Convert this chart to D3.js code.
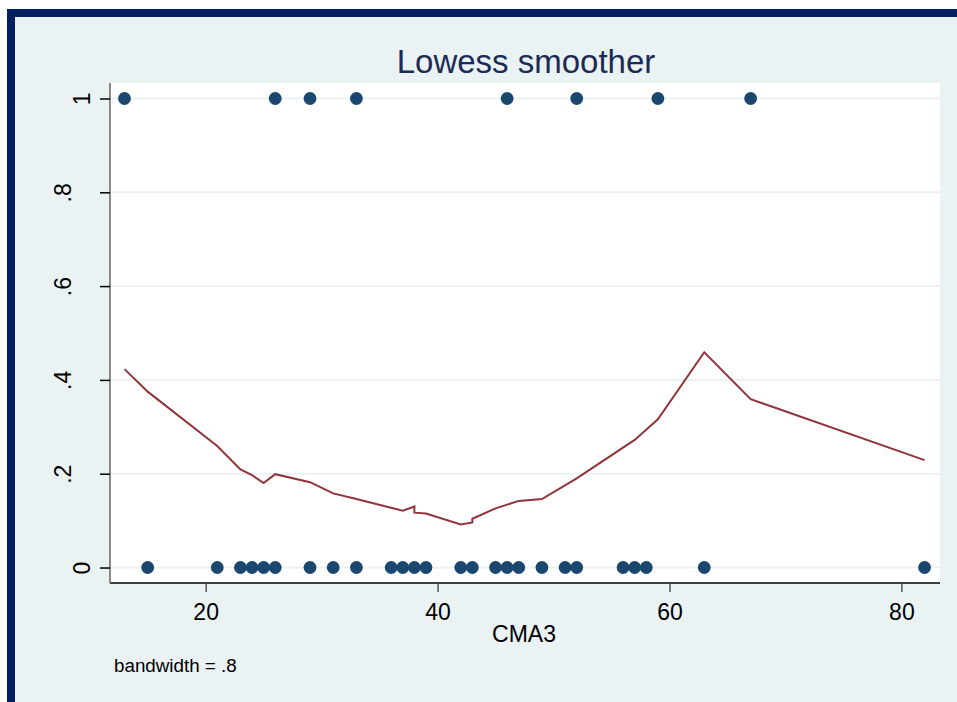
<!DOCTYPE html>
<html>
<head>
<meta charset="utf-8">
<script src="https://cdn.jsdelivr.net/npm/d3@7"></script>
<style>
	body { margin: 0; background: #fff; }
	svg { display: block; font-family: "Liberation Sans", Arial, sans-serif; }
</style>
</head>
<body>
<script>
// Observations (CMA3 value, outcome 0/1)
var onesX  = [13, 26, 29, 33, 46, 52, 59, 67],
	zerosX = [15, 21, 23, 24, 25, 26, 29, 31, 33, 36, 37, 38, 39, 42, 43, 45, 46, 47, 49, 51, 52, 56, 57, 58, 63, 82];

// Lowess smoothed values
var lowessX = [13, 15, 21, 23, 24, 25, 26, 29, 31, 33, 37, 38, 38, 39, 42, 43, 43, 45, 47, 49, 52, 57, 59, 63, 67, 82],
	lowessY = [.423, .375, .259, .209, .197, .180, .199, .182, .158, .146, .121, .130, .117, .115, .092, .096, .104, .126, .142, .146, .190, .272, .316, .459, .359, .229];

var xTicks = [20, 40, 60, 80],
	yTicks = [0, .2, .4, .6, .8, 1];

var titleText = "Lowess smoother",
	xTitle    = "CMA3",
	noteText  = "bandwidth = .8";

// Settings
var W = 957, H = 702,
	plot = { left: 110, right: 940, top: 83, bot: 583 },
	navy   = "#002060",
	bgCol  = "#eaf2f3",
	dotCol = "#1a476f",
	lineCol = "#90353b";

var svg = d3.select("body").append("svg")
	.attr("width", W)
	.attr("height", H);

// frame
svg.append("rect").attr("x", 7).attr("y", 9).attr("width", W - 7).attr("height", H - 9).attr("fill", navy);
svg.append("rect").attr("x", 15).attr("y", 17).attr("width", W - 15).attr("height", H - 17).attr("fill", bgCol);
svg.append("rect")
	.attr("x", plot.left).attr("y", plot.top)
	.attr("width", plot.right - plot.left).attr("height", plot.bot - plot.top)
	.attr("fill", "#fff");

var xScale = d3.scaleLinear().domain([11.75, 83.33]).range([plot.left, plot.right]),
	yScale = d3.scaleLinear().domain([-0.033, 1.033]).range([plot.bot, plot.top]);

// grid
svg.append("g").selectAll("line").data(yTicks).enter().append("line")
	.attr("x1", plot.left).attr("x2", plot.right)
	.attr("y1", function(d){ return yScale(d); })
	.attr("y2", function(d){ return yScale(d); })
	.attr("stroke", bgCol)
	.attr("stroke-width", 2);

// smoother
var line = d3.line()
	.x(function(d){ return xScale(d[0]); })
	.y(function(d){ return yScale(d[1]); });

svg.append("path")
	.datum(lowessX.map(function(x, i){ return [x, lowessY[i]]; }))
	.attr("d", line)
	.attr("fill", "none")
	.attr("stroke", lineCol)
	.attr("stroke-width", 2)
	.attr("stroke-linejoin", "miter");

// points
var pts = onesX.map(function(x){ return [x, 1]; })
	.concat(zerosX.map(function(x){ return [x, 0]; }));

svg.append("g").selectAll("circle").data(pts).enter().append("circle")
	.attr("cx", function(d){ return xScale(d[0]); })
	.attr("cy", function(d){ return yScale(d[1]); })
	.attr("r", 6.4)
	.attr("fill", dotCol);

// axes
var xAxis = d3.axisBottom(xScale).tickValues(xTicks).tickSize(9).tickSizeOuter(0);
var yAxis = d3.axisLeft(yScale).tickValues(yTicks).tickSize(10).tickSizeOuter(0)
	.tickFormat(function(d){ return d === 0 || d === 1 ? String(d) : String(d).replace("0.", "."); });

var gx = svg.append("g")
	.attr("transform", "translate(0," + plot.bot + ")")
	.call(xAxis);
gx.select(".domain").attr("stroke", "#000").attr("stroke-width", 1.5)
	.attr("d", "M" + plot.left + ",0H" + plot.right);
gx.selectAll(".tick line").attr("stroke", "#555").attr("stroke-width", 1.5);
gx.selectAll(".tick text")
	.attr("y", 37).attr("dy", 0)
	.attr("fill", "#000")
	.style("font-size", "23px")
	.style("font-family", "Liberation Sans, Arial, sans-serif");

var gy = svg.append("g")
	.attr("transform", "translate(" + plot.left + ",0)")
	.call(yAxis);
gy.select(".domain").attr("stroke", "#666").attr("stroke-width", 1.5)
	.attr("d", "M0," + plot.top + "V" + plot.bot);
gy.selectAll(".tick line").attr("stroke", "#000").attr("stroke-width", 1.5);
gy.selectAll(".tick text")
	.attr("x", 0).attr("y", 0).attr("dy", 0)
	.attr("text-anchor", "middle")
	.attr("transform", function(d){
		var bx = (d === 0 || d === 1) ? -20 : -39;
		return "translate(" + bx + ",0) rotate(-90)";
	})
	.attr("fill", "#000")
	.style("font-size", "23px")
	.style("font-family", "Liberation Sans, Arial, sans-serif");

// texts
svg.append("text")
	.attr("x", 526).attr("y", 73)
	.attr("text-anchor", "middle")
	.attr("fill", "#1c2b55")
	.style("font-size", "33px")
	.text(titleText);

svg.append("text")
	.attr("x", 524).attr("y", 642)
	.attr("text-anchor", "middle")
	.attr("fill", "#000")
	.style("font-size", "23px")
	.text(xTitle);

svg.append("text")
	.attr("x", 114).attr("y", 672)
	.attr("fill", "#000")
	.style("font-size", "18.8px")
	.text(noteText);
</script>
</body>
</html>
